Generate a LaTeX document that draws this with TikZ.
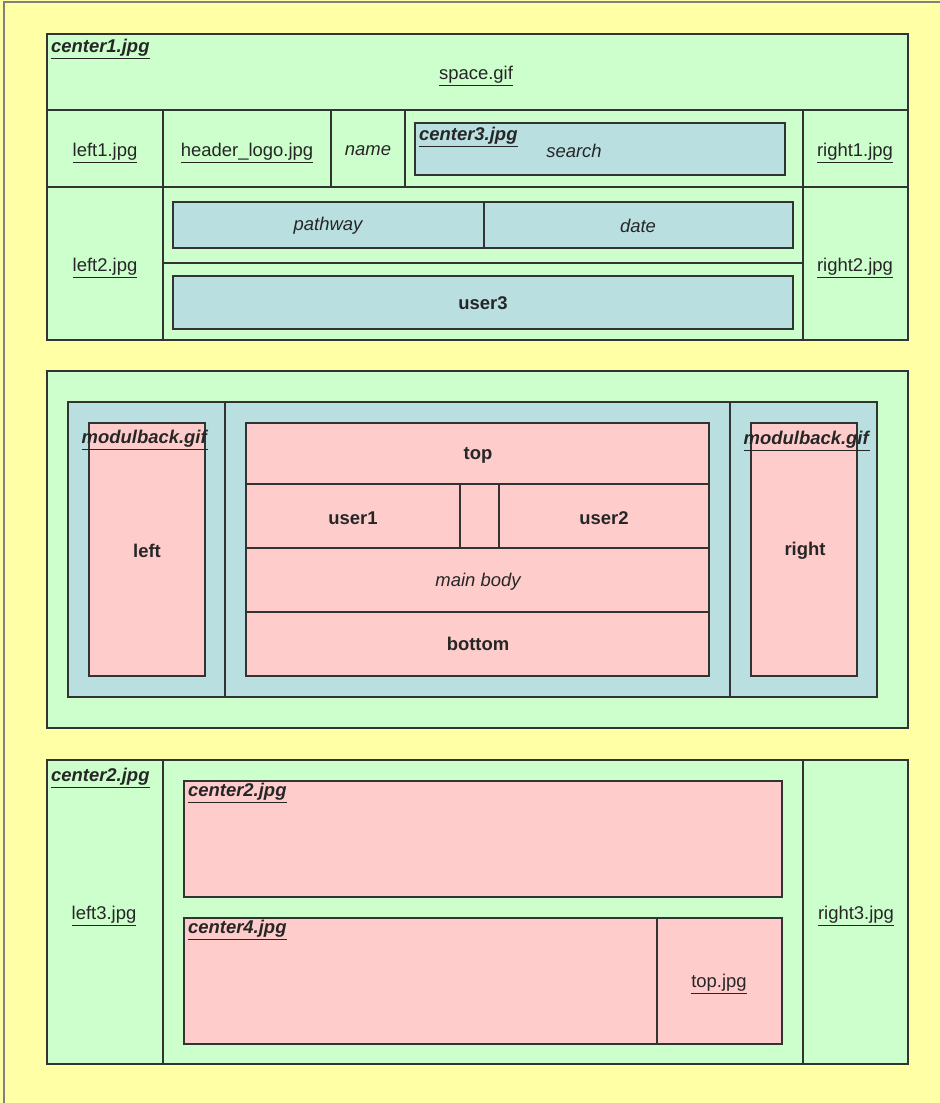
\documentclass[tikz,border=0pt]{standalone}
\usepackage{fontspec}
\setmainfont{Liberation Sans}
\usepackage{xcolor}
\usepackage{tikz}

\definecolor{pagebg}{HTML}{FFFFA6}
\definecolor{cellgreen}{HTML}{CCFFCC}
\definecolor{cellblue}{HTML}{BADFE1}
\definecolor{cellpink}{HTML}{FFCCCC}
\definecolor{edgegray}{HTML}{333333}

\newcommand{\fileref}[1]{\underline{#1}}
\newcommand{\bgref}[1]{\underline{\textbf{\textit{#1}}}}

\begin{document}
\begin{tikzpicture}[
    x=0.02cm, y=-0.02cm,
    every node/.style={
        font=\fontsize{10.5}{12}\selectfont,
        text=black!85,
        inner sep=1pt
    },
    box/.style={draw=edgegray, line width=0.6pt},
    greencell/.style={box, fill=cellgreen},
    bluecell/.style={box, fill=cellblue},
    pinkcell/.style={box, fill=cellpink},
    field/.style={font=\fontsize{10.5}{12}\selectfont\itshape},
    module/.style={font=\fontsize{10.5}{12}\selectfont\bfseries},
    corner/.style={anchor=north west},
    link/.style={yshift=-0.05cm}
]

% Page 
\useasboundingbox (0,0) rectangle (940,1103);
\fill[pagebg] (0,0) rectangle (940,1103);
\draw[gray, line width=0.8pt] (4,1103) -- (4,2) -- (940,2);

% Header block 
\draw[greencell] (47,34) rectangle (908,340);
\draw[box] (47,110) -- (908,110);
\draw[box] (47,187) -- (908,187);
\draw[box] (163,110) -- (163,340);
\draw[box] (331,110) -- (331,187);
\draw[box] (405,110) -- (405,187);
\draw[box] (803,110) -- (803,340);
\draw[box] (163,263) -- (803,263);
\draw[bluecell] (415,123) rectangle (785,175);
\draw[bluecell] (173,202) rectangle (793,248);
\draw[box] (484,202) -- (484,248);
\draw[bluecell] (173,276) rectangle (793,329);

\node (center1) [corner] at (49,37) {\bgref{center1.jpg}};
\node (space) [link] at (476,74) {\fileref{space.gif}};
\node (left1) [link] at (105,151) {\fileref{left1.jpg}};
\node (logo) [link] at (247,151) {\fileref{header\_logo.jpg}};
\node (name) [field] at (368,151) {name};
\node (center3) [corner] at (417,125) {\bgref{center3.jpg}};
\node (search) [field] at (574,151) {search};
\node (right1) [link] at (855,151) {\fileref{right1.jpg}};
\node (left2) [link] at (105,266) {\fileref{left2.jpg}};
\node (right2) [link] at (855,266) {\fileref{right2.jpg}};
\node (pathway) [field] at (328,226) {pathway};
\node (date) [field] at (638,226) {date};
\node (user3) [module] at (483,303) {user3};

% Module block 
\draw[greencell] (47,371) rectangle (908,728);
\draw[bluecell] (68,402) rectangle (877,697);
\draw[box] (225,402) -- (225,697);
\draw[box] (730,402) -- (730,697);
\draw[pinkcell] (89,423) rectangle (205,676);
\draw[pinkcell] (246,423) rectangle (709,676);
\draw[box] (246,484) -- (709,484);
\draw[box] (246,548) -- (709,548);
\draw[box] (246,612) -- (709,612);
\draw[box] (460,484) -- (460,548);
\draw[box] (499,484) -- (499,548);
\draw[pinkcell] (751,423) rectangle (857,676);

\node (modleft) at (145,440) {\bgref{modulback.gif}};
\node (modright) at (807,441) {\bgref{modulback.gif}};
\node (left) [module] at (147,551) {left};
\node (right) [module] at (805,551) {right};
\node (top) [module] at (478,455) {top};
\node (user1) [module] at (353,518) {user1};
\node (user2) [module] at (604,518) {user2};
\node (mainbody) [field] at (478,582) {main body};
\node (bottom) [module] at (478,644) {bottom};

% Footer block 
\draw[greencell] (47,760) rectangle (908,1064);
\draw[box] (163,760) -- (163,1064);
\draw[box] (803,760) -- (803,1064);
\draw[pinkcell] (184,781) rectangle (782,897);
\draw[pinkcell] (184,918) rectangle (782,1044);
\draw[box] (657,918) -- (657,1044);

\node (center2) [corner] at (49,766) {\bgref{center2.jpg}};
\node (left3) [link] at (104,914) {\fileref{left3.jpg}};
\node (right3) [link] at (856,914) {\fileref{right3.jpg}};
\node (center2in) [corner] at (186,781) {\bgref{center2.jpg}};
\node (center4) [corner] at (186,918) {\bgref{center4.jpg}};
\node (topjpg) [link] at (719,982) {\fileref{top.jpg}};

\end{tikzpicture}
\end{document}
